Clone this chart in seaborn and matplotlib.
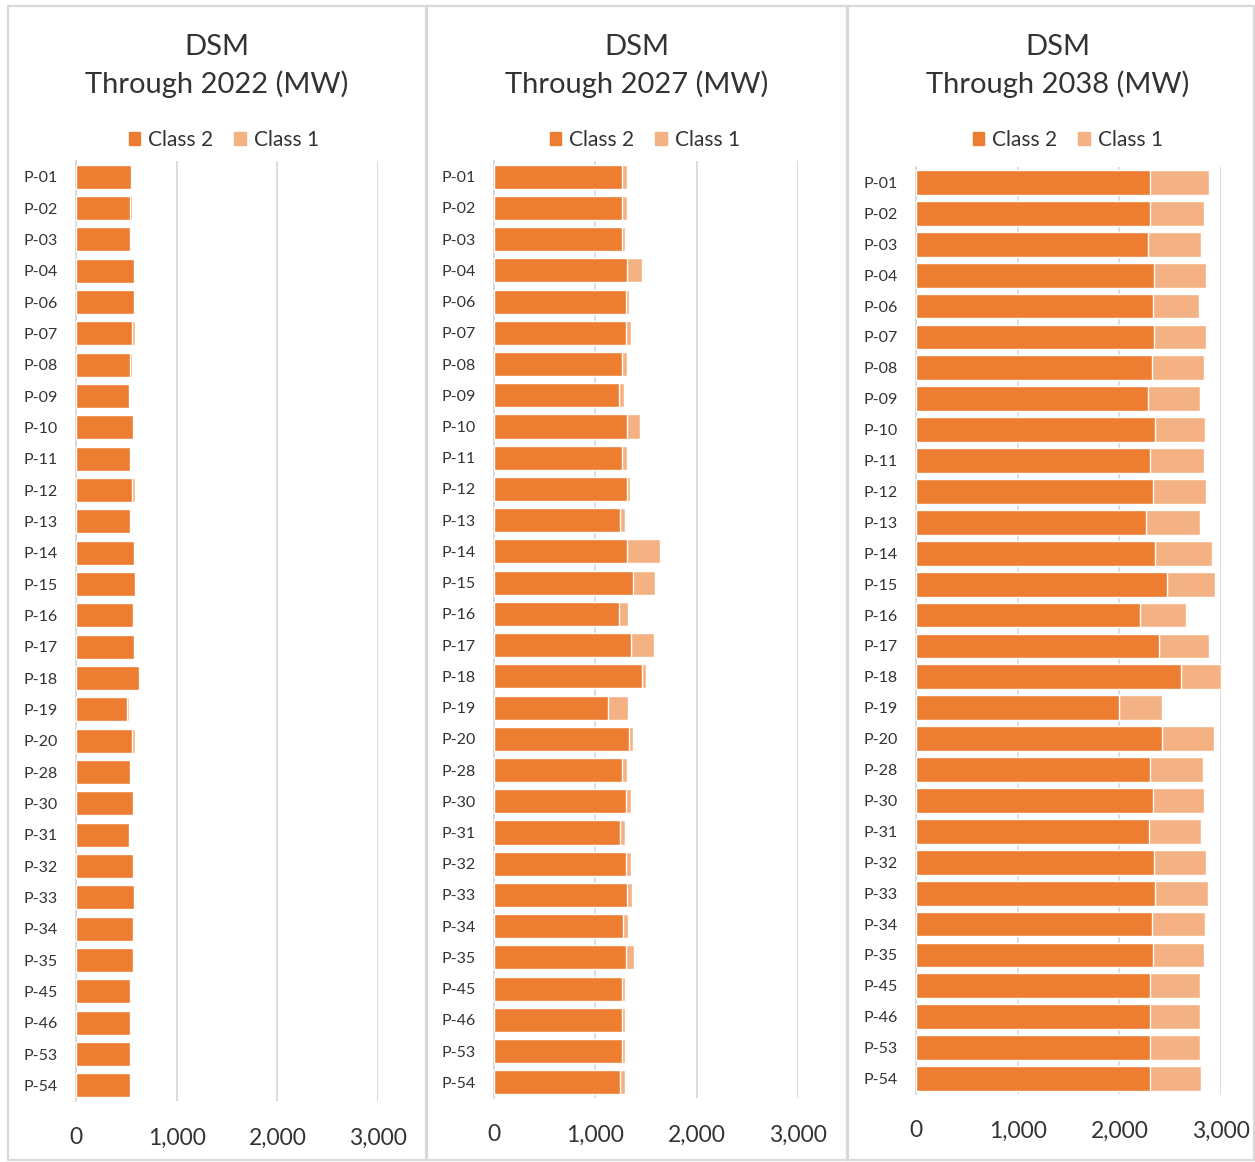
import matplotlib
matplotlib.use("Agg")
import matplotlib.pyplot as plt
import numpy as np
import pandas as pd
import seaborn as sns
from matplotlib.patches import Patch, Rectangle
from matplotlib.ticker import FuncFormatter

# Plant identifiers (same for every period)
plants = ["P-01", "P-02", "P-03", "P-04", "P-06", "P-07", "P-08", "P-09", "P-10",
          "P-11", "P-12", "P-13", "P-14", "P-15", "P-16", "P-17", "P-18", "P-19",
          "P-20", "P-28", "P-30", "P-31", "P-32", "P-33", "P-34", "P-35", "P-45",
          "P-46", "P-53", "P-54"]

# DSM through 2022 (MW)
class2_2022 = [548, 535, 538, 579, 579, 555, 535, 525, 562, 538, 555, 538, 579, 589, 562,
               575, 625, 502, 555, 538, 562, 525, 562, 575, 562, 562, 538, 538, 538, 538]
class1_2022 = [7, 20, 4, 3, 3, 27, 20, 3, 7, 4, 27, 4, 3, 6, 7,
               7, 7, 26, 27, 4, 7, 3, 7, 7, 7, 7, 4, 4, 4, 4]

# DSM through 2027 (MW)
class2_2027 = [1261, 1261, 1261, 1310, 1300, 1300, 1261, 1238, 1310, 1261, 1310, 1248, 1310,
               1376, 1238, 1350, 1465, 1122, 1337, 1261, 1300, 1248, 1300, 1314, 1274, 1300,
               1261, 1261, 1261, 1248]
class1_2027 = [49, 49, 36, 152, 37, 50, 49, 46, 126, 49, 37, 49, 330,
               215, 85, 228, 37, 201, 36, 49, 50, 49, 50, 49, 49, 86,
               36, 36, 36, 49]

# DSM through 2038 (MW)
class2_2038 = [2303, 2303, 2280, 2342, 2329, 2342, 2319, 2280, 2355, 2306, 2329, 2267, 2355,
               2466, 2204, 2394, 2607, 2001, 2417, 2306, 2329, 2293, 2342, 2355, 2319, 2329,
               2306, 2306, 2306, 2306]
class1_2038 = [579, 530, 527, 514, 452, 514, 514, 514, 491, 527, 527, 527, 554,
               479, 452, 488, 393, 416, 518, 514, 504, 514, 514, 514, 527, 504,
               488, 488, 488, 501]

years = ["2022", "2027", "2038"]
ticks = [0, 1000, 2000, 3000]

DARK = "#ED7D31"
LIGHT = "#F4B183"
GRID = "#D9D9D9"
TEXT = "#333333"

sns.set_theme(style="white")
plt.rcParams["font.family"] = ["Lato", "DejaVu Sans"]

W, H = 1255, 1162
fig = plt.figure(figsize=(W / 100, H / 100), dpi=100)


def fx(px):
    return px / W


def fy(py):
    return 1 - py / H


# pixel layout of each panel: frame (x0, x1), plot area (left, right, top, bottom),
# title centre x, legend centre x, bar thickness
layout = [
    dict(frame=(8, 426), area=(76, 378, 161, 1101), title_x=217, legend_x=224, bar=0.76),
    dict(frame=(427, 847), area=(494, 798, 161, 1098), title_x=637, legend_x=645, bar=0.77),
    dict(frame=(848, 1254), area=(916, 1221, 167, 1094), title_x=1058, legend_x=1068, bar=0.8),
]
series = [(class2_2022, class1_2022), (class2_2027, class1_2027), (class2_2038, class1_2038)]

for year, (c2, c1), lay in zip(years, series, layout):
    x0, x1 = lay["frame"]
    fig.add_artist(Rectangle((fx(x0), fy(1160)), fx(x1) - fx(x0), (1160 - 6) / H,
                             transform=fig.transFigure, fill=False,
                             edgecolor=GRID, lw=1.6))

    l, r, t, b = lay["area"]
    ax = fig.add_axes([fx(l), fy(b), fx(r) - fx(l), (b - t) / H])

    df = pd.DataFrame({"plant": plants, "Class 2": c2, "Class 1": c1})
    df["Total"] = df["Class 2"] + df["Class 1"]

    # stacked horizontal bars: total in the light tone, Class 2 drawn over it
    sns.barplot(data=df, y="plant", x="Total", color=LIGHT, saturation=1,
                width=lay["bar"], ax=ax, orient="h", zorder=3)
    sns.barplot(data=df, y="plant", x="Class 2", color=DARK, saturation=1,
                width=lay["bar"], ax=ax, orient="h", zorder=4)

    ax.set_xlim(0, 3000)
    ax.set_xticks(ticks)
    ax.xaxis.set_major_formatter(FuncFormatter(lambda v, p: f"{v:,.0f}"))
    ax.set_xlabel("")
    ax.set_ylabel("")
    ax.grid(axis="x", color=GRID, lw=1.3, zorder=0)
    ax.set_axisbelow(True)
    for side in ["top", "right", "bottom"]:
        ax.spines[side].set_visible(False)
    ax.spines["left"].set_color(GRID)
    ax.spines["left"].set_linewidth(1.3)
    ax.tick_params(axis="x", length=0, pad=19, labelsize=16.5, labelcolor=TEXT)
    ax.tick_params(axis="y", length=0, pad=13, labelsize=11.5, labelcolor=TEXT)

    cx = lay["title_x"]
    fig.text(fx(cx), fy(47), "DSM", ha="center", va="center", fontsize=21, color=TEXT)
    fig.text(fx(cx), fy(84), f"Through {year} (MW)", ha="center", va="center",
             fontsize=21, color=TEXT)

    handles = [Patch(color=DARK, label="Class 2"), Patch(color=LIGHT, label="Class 1")]
    fig.legend(handles=handles, loc="center", bbox_to_anchor=(fx(lay["legend_x"]), fy(140)),
               ncol=2, frameon=False, fontsize=15, labelcolor=TEXT,
               handlelength=0.55, handleheight=0.55, handletextpad=0.4,
               columnspacing=1.0, borderpad=0)

fig.savefig("out.png", dpi=100, facecolor="white")
